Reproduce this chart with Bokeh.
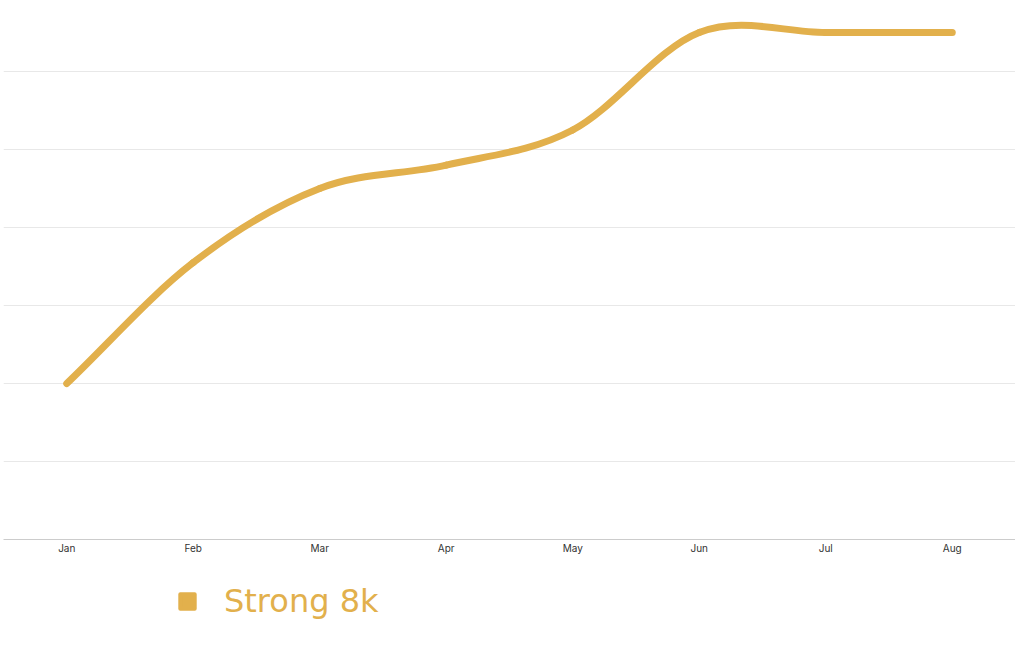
import numpy as np
from bokeh.plotting import figure
from bokeh.layouts import column
from bokeh.models import Range1d, FixedTicker, Legend, LegendItem
from bokeh.embed import file_html
from bokeh.resources import INLINE

months = ["Jan", "Feb", "Mar", "Apr", "May", "Jun", "Jul", "Aug"]
strong_8k = [2.0, 3.55, 4.5, 4.8, 5.25, 6.5, 6.5, 6.5]
grid_levels = [0, 1, 2, 3, 4, 5, 6]
series_name = "Strong 8k"

GOLD = "#e2b04c"

x = np.arange(len(months), dtype=float)
y = np.array(strong_8k, dtype=float)

# smooth the line: catmull-rom segments as cubic beziers,
# one-sided tangents at both ends
tan = np.gradient(y)
cy0 = y[:-1] + tan[:-1] / 3.0
cy1 = y[1:] - tan[1:] / 3.0

p = figure(width=1015, height=560, output_backend="svg", toolbar_location=None,
           x_range=Range1d(-0.5, 7.5), y_range=Range1d(0, 6.91),
           min_border_left=3, min_border_right=0, min_border_top=0,
           min_border_bottom=21)
p.outline_line_color = None
p.background_fill_color = "white"
p.border_fill_color = "white"

p.bezier(x0=x[:-1], y0=y[:-1], x1=x[1:], y1=y[1:],
         cx0=x[:-1] + 1.0 / 3, cy0=cy0, cx1=x[1:] - 1.0 / 3, cy1=cy1,
         line_color=GOLD, line_width=7, line_cap="round")

p.xaxis.ticker = FixedTicker(ticks=list(x))
p.xaxis.major_label_overrides = {i: m for i, m in enumerate(months)}
p.xaxis.axis_line_color = "#cccccc"
p.xaxis.axis_line_width = 1
p.xaxis.major_tick_line_color = None
p.xaxis.minor_tick_line_color = None
p.xaxis.major_tick_out = 0
p.xaxis.major_label_standoff = 2
p.xaxis.major_label_text_font = "Inter"
p.xaxis.major_label_text_font_size = "10px"
p.xaxis.major_label_text_color = "#333333"

p.yaxis.visible = False
p.ygrid.ticker = FixedTicker(ticks=grid_levels)
p.ygrid.grid_line_color = "#e8e8e8"
p.ygrid.grid_line_width = 1
p.xgrid.grid_line_color = None

# legend strip under the chart
lg = figure(width=1015, height=88, output_backend="svg", toolbar_location=None,
            x_range=Range1d(0, 1), y_range=Range1d(0, 1),
            min_border_left=0, min_border_right=0, min_border_top=0,
            min_border_bottom=0)
lg.outline_line_color = None
lg.axis.visible = False
lg.grid.visible = False
# one point kept outside the visible range: only its legend swatch shows
dot = lg.scatter(x=[-10], y=[-10], marker="square", size=14, fill_color=GOLD,
                 line_color=GOLD, line_width=4, line_join="round")

legend = Legend(items=[LegendItem(label=series_name, renderers=[dot])],
                location=(166, 28), orientation="horizontal")
legend.glyph_width = 36
legend.glyph_height = 36
legend.label_standoff = 19
legend.label_text_font = "DejaVu Sans"
legend.label_text_font_size = "32px"
legend.label_text_color = GOLD
legend.border_line_color = None
legend.background_fill_alpha = 0
legend.padding = 0
legend.margin = 0
legend.spacing = 0
lg.add_layout(legend)

layout = column(p, lg, spacing=0)
open("out.html", "w").write(file_html(layout, INLINE))
